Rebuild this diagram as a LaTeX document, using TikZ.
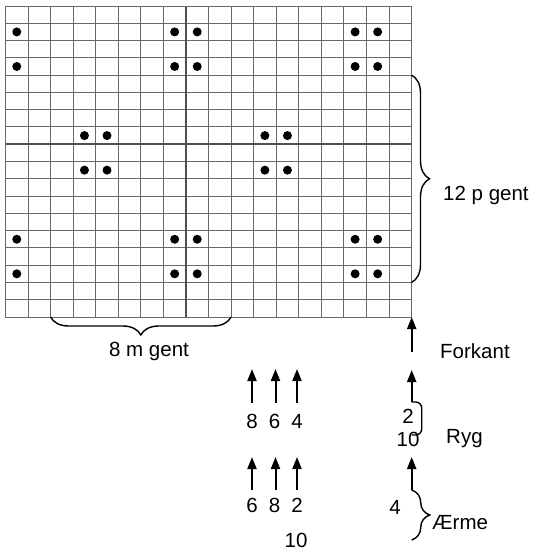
\documentclass[tikz,border=0pt]{standalone}
\usepackage{fontspec}
\setmainfont{Liberation Sans}
\usetikzlibrary{arrows.meta,decorations.pathreplacing}
\definecolor{gridgray}{RGB}{105,105,105}
\definecolor{thickgray}{RGB}{80,80,80}
\begin{document}
\begin{tikzpicture}[x=1pt,y=-1pt,
  lbl/.style={font=\fontsize{20.5}{24}\selectfont, inner sep=0pt},
  gridline/.style={draw=gridgray, line width=0.9pt},
  midline/.style={draw=thickgray, line width=2pt},
  uparrow/.style={-{Triangle[length=12pt,width=9pt]}, line width=2pt},
  bigbrace/.style={decorate, decoration={brace, amplitude=18pt}, line width=1.4pt},
  bracket/.style={rounded corners=6pt, line width=1.4pt},
  dot/.style={fill=black}]
\useasboundingbox (0,0) rectangle (536,556);
\def\cw{22.5556}
\def\rh{17.2778}
% grid
\foreach \i in {1,...,17} {
  \draw[gridline] ({5.5+\i*\cw},6) -- ({5.5+\i*\cw},317);
  \draw[gridline] (5.5,{6+\i*\rh}) -- (411.5,{6+\i*\rh});
}
\draw[midline] ({5.5+8*\cw},6) -- ({5.5+8*\cw},317);
\draw[midline] (5.5,{6+8*\rh}) -- (411.5,{6+8*\rh});
\draw[gridline] (5.5,6) rectangle (411.5,317);
% dots
\foreach \r in {1,3,13,15} \foreach \c in {0,7,8,15,16}
  \fill[dot] ({5.5+(\c+0.5)*\cw},{6+(\r+0.5)*\rh}) circle (4.5);
\foreach \r in {7,9} \foreach \c in {3,4,11,12}
  \fill[dot] ({5.5+(\c+0.5)*\cw},{6+(\r+0.5)*\rh}) circle (4.5);
% right brace
\coordinate (rbtop) at (411.5,{6+4*\rh});
\coordinate (rbbot) at (411.5,{6+16*\rh});
\draw[bigbrace] (rbtop) -- (rbbot);
\node[lbl, anchor=west] (pgent) at (443,195) {12 p gent};
% bottom brace
\coordinate (bbl) at ({5.5+2*\cw},317);
\coordinate (bbr) at ({5.5+10*\cw},317);
\draw[bigbrace] (bbr) -- (bbl);
\node[lbl] (mgent) at (149,351) {8 m gent};
% Forkant
\coordinate (gridse) at (411.7,317);
\coordinate (fk0) at (411.7,352);
\draw[uparrow] (fk0) -- (gridse);
\node[lbl, anchor=west] (forkant) at (440,351) {Forkant};
% arrow groups
\foreach \n/\x in {a/252,b/275.5,c/297} {
  \coordinate (\n1s) at (\x,403);
  \coordinate (\n1e) at (\x,369);
  \draw[uparrow] (\n1s) -- (\n1e);
  \coordinate (\n2s) at (\x,490);
  \coordinate (\n2e) at (\x,457);
  \draw[uparrow] (\n2s) -- (\n2e);
}
\node[lbl] (t8a) at (252,421) {8};
\node[lbl] (t6a) at (274.5,421) {6};
\node[lbl] (t4a) at (297,421) {4};
\node[lbl] (t6b) at (252,505) {6};
\node[lbl] (t8b) at (274.5,505) {8};
\node[lbl] (t2b) at (297,505) {2};
\node[lbl] (t10b) at (296,540) {10};
% right column
\coordinate (r2s) at (411.7,402);
\coordinate (r2e) at (411.7,370);
\draw[uparrow] (r2s) -- (r2e);
\coordinate (brk1) at (421.7,402);
\coordinate (brk2) at (421.7,435);
\coordinate (brk3) at (411.7,435);
\draw[bracket] (r2s) -- (brk1) -- (brk2) -- (brk3);
\node[lbl] (t2r) at (408,416) {2};
\node[lbl] (t10r) at (408,439) {10};
\node[lbl, anchor=west] (ryg) at (446,439) {Ryg};
\coordinate (r3s) at (411.7,490);
\coordinate (r3e) at (411.7,457);
\draw[uparrow] (r3s) -- (r3e);
\coordinate (ae2) at (411.7,540);
\draw[bigbrace] (r3s) -- (ae2);
\node[lbl] (t4r) at (395,507) {4};
\node[lbl, anchor=west] (aerme) at (432,523) {Ærme};
\end{tikzpicture}
\end{document}
